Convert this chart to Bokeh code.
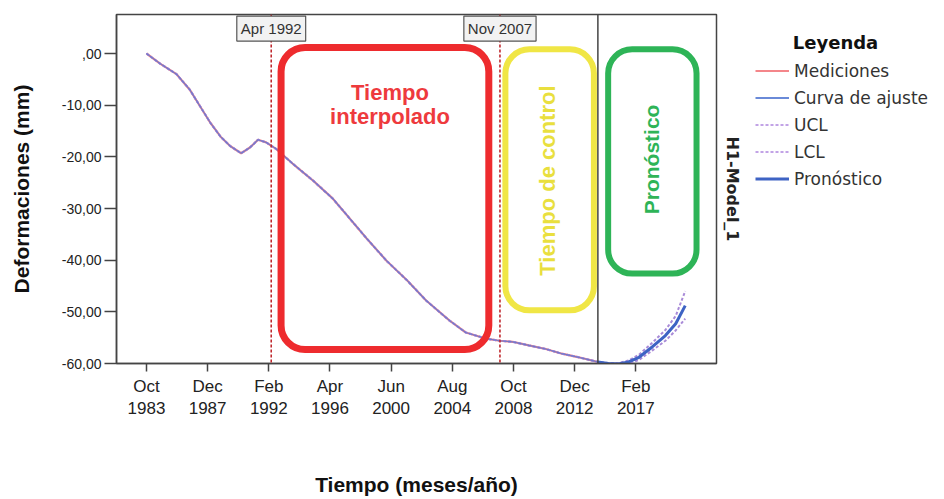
import math
from bokeh.plotting import figure
from bokeh.layouts import row
from bokeh.models import (Range1d, FixedTicker, Span, Label, BoxAnnotation,
                          Legend, LegendItem, LinearAxis)
from bokeh.embed import file_html
from bokeh.resources import INLINE

# Measured deformation (decimal year, mm)
hist_time = [1983.75, 1984.7, 1985.8, 1986.7, 1987.4, 1988.1, 1988.8, 1989.45,
             1990.2, 1990.8, 1991.35, 1991.9, 1992.6, 1993.7, 1995.1, 1996.45,
             1998.75, 2000.1, 2001.5, 2002.8, 2004.4, 2005.5, 2006.9, 2007.8,
             2008.7, 2009.8, 2010.95, 2012.05, 2013.2, 2014.5]
mediciones = [0.0, -2.0, -4.0, -7.0, -10.2, -13.4, -16.1, -17.9,
              -19.3, -18.2, -16.7, -17.2, -18.5, -21.3, -24.6, -28.1,
              -35.8, -40.1, -43.9, -47.8, -51.7, -54.0, -55.2, -55.6,
              -55.8, -56.5, -57.2, -58.1, -58.8, -59.7]
curva_ajuste = list(mediciones)

# Forecast with control limits
fc_time = [2014.5, 2015.2, 2015.9, 2016.6, 2017.3, 2018.2, 2019.1, 2019.8, 2020.45]
pronostico = [-59.7, -60.0, -60.1, -59.7, -58.8, -56.8, -54.6, -52.3, -48.8]
ucl_fc = [-59.7, -59.9, -59.9, -59.4, -58.3, -56.0, -53.5, -50.8, -46.0]
lcl_fc = [-59.7, -60.1, -60.3, -60.0, -59.3, -57.5, -55.6, -53.6, -51.3]

# Axis ticks
tick_months = ["Oct", "Dec", "Feb", "Apr", "Jun", "Aug", "Oct", "Dec", "Feb"]
tick_month_num = [10, 12, 2, 4, 6, 8, 10, 12, 2]
tick_years = [1983, 1987, 1992, 1996, 2000, 2004, 2008, 2012, 2017]
y_ticks = [0, -10, -20, -30, -40, -50, -60]
y_tick_labels = [",00", "-10,00", "-20,00", "-30,00", "-40,00", "-50,00", "-60,00"]

# Reference events
event_labels = ["Apr 1992", "Nov 2007"]
event_times = [1992.25, 2007.83]
forecast_start = 2014.5

FONT = "Liberation Sans"
LEG_FONT = "DejaVu Sans"

p = figure(width=744, height=499, output_backend="svg", toolbar_location=None,
           x_range=Range1d(1981.71, 2022.58), y_range=Range1d(-60, 7.55),
           min_border_left=116, min_border_right=26, min_border_top=14,
           min_border_bottom=135)
p.background_fill_color = "white"
p.border_fill_color = "white"
p.outline_line_color = "#444444"
p.outline_line_width = 1.5
p.xgrid.visible = False
p.ygrid.visible = False

# x axis
x_pos = [round(y + (m - 1) / 12, 4) for y, m in zip(tick_years, tick_month_num)]
p.xaxis.ticker = FixedTicker(ticks=x_pos)
p.xaxis.major_label_overrides = {x: f"{mo}\n{yr}" for x, mo, yr in zip(x_pos, tick_months, tick_years)}
p.xaxis.axis_label = "Tiempo (meses/año)"
p.xaxis.axis_label_standoff = 52
p.xaxis.minor_tick_line_color = None
p.xaxis.major_tick_out = 8
p.xaxis.major_tick_in = 0
p.xaxis.major_label_standoff = 5
p.xaxis.major_label_text_font_size = "17px"

# y axis
p.yaxis.ticker = FixedTicker(ticks=y_ticks)
p.yaxis.major_label_overrides = dict(zip(y_ticks, y_tick_labels))
p.yaxis.axis_label = "Deformaciones (mm)"
p.yaxis.axis_label_standoff = 26
p.yaxis.minor_tick_line_color = None
p.yaxis.major_tick_out = 12
p.yaxis.major_tick_in = 0
p.yaxis.major_label_standoff = 3
p.yaxis.major_label_text_font_size = "14px"

for ax in (p.xaxis, p.yaxis):
    ax.axis_line_color = "#444444"
    ax.axis_line_width = 1.5
    ax.major_tick_line_color = "#444444"
    ax.major_tick_line_width = 1.5
    ax.major_label_text_font = FONT
    ax.major_label_text_color = "#222222"
    ax.axis_label_text_font = FONT
    ax.axis_label_text_font_size = "21px"
    ax.axis_label_text_font_style = "bold"
    ax.axis_label_text_color = "#111111"

# Model name on the right side of the frame
model_axis = LinearAxis(ticker=FixedTicker(ticks=[]), axis_label="H1-Model_1",
                        axis_line_color=None, major_tick_line_color=None,
                        minor_tick_line_color=None, major_label_standoff=0,
                        major_tick_out=0, major_tick_in=0, axis_label_standoff=6,
                        axis_label_text_font=LEG_FONT, axis_label_text_font_size="16px",
                        axis_label_text_font_style="bold", axis_label_text_color="#222222")
p.add_layout(model_axis, "right")

# Highlight boxes
box_specs = [
    (1992.92, 2007.07, 1.15, -57.3, "#ee2b2e", 7),
    (2008.2, 2014.23, 0.8, -49.7, "#f0e645", 6),
    (2015.2, 2021.22, 0.8, -42.6, "#2eb457", 6),
]
for l, r, t, b, c, w in box_specs:
    p.add_layout(BoxAnnotation(left=l, right=r, top=t, bottom=b, fill_alpha=0,
                               line_color=c, line_alpha=1.0, line_width=w,
                               border_radius=24))

# Event lines and labels
for t in event_times:
    p.add_layout(Span(location=t, dimension="height", line_color="#c0282d",
                      line_width=1.6, line_dash="3 2"))
p.add_layout(Span(location=forecast_start, dimension="height",
                  line_color="#444444", line_width=1.5))
for lbl, t in zip(event_labels, event_times):
    p.add_layout(Label(x=t, y=7.25, text=lbl, text_align="center", text_baseline="top",
                       text_font=FONT, text_font_size="15px", text_color="#333333",
                       background_fill_color="#f2f2f2", border_line_color="#555555",
                       border_line_width=1.2, padding=4))

# Series
r_med = p.line(hist_time, mediciones, line_color="#f4868a", line_width=2.2)
ucl_time = hist_time + fc_time[1:]
ucl = curva_ajuste + ucl_fc[1:]
lcl = curva_ajuste + lcl_fc[1:]
r_ucl = p.line(ucl_time, ucl, line_color="#a98bd8", line_width=2, line_dash="3 2")
r_lcl = p.line(ucl_time, lcl, line_color="#a98bd8", line_width=2, line_dash="3 2")
r_fit = p.line(hist_time, curva_ajuste, line_color="#6674c8", line_width=1.2, line_alpha=0.85)
r_fc = p.line(fc_time, pronostico, line_color="#3e63c4", line_width=3)

# Box captions
p.add_layout(Label(x=2000.34, y=-9.9, text="Tiempo\ninterpolado", text_align="center",
                   text_baseline="middle", text_font=FONT, text_font_size="22px",
                   text_line_height=0.95, text_font_style="bold", text_color="#ee3a3d"))
p.add_layout(Label(x=2011.08, y=-24.6, text="Tiempo de control", angle=math.pi / 2,
                   text_align="center", text_baseline="middle", text_font=FONT,
                   text_font_size="22px", text_font_style="bold", text_color="#e9df3e"))
p.add_layout(Label(x=2018.15, y=-20.5, text="Pronóstico", angle=math.pi / 2,
                   text_align="center", text_baseline="middle", text_font=FONT,
                   text_font_size="21px", text_font_style="bold", text_color="#2eb457"))

# Legend panel: pixel-like coordinates, y measured downward
leg = figure(width=200, height=499, output_backend="svg", toolbar_location=None,
             x_range=Range1d(0, 200), y_range=Range1d(499, 0),
             x_axis_type=None, y_axis_type=None, min_border=0)
leg.outline_line_color = None
leg.background_fill_color = "white"
leg.border_fill_color = "white"
leg.xgrid.visible = False
leg.ygrid.visible = False

# Same series, kept outside this panel's view so only their legend entries show
l_med = leg.line(hist_time, mediciones, line_color="#f4868a", line_width=2.2)
l_fit = leg.line(hist_time, curva_ajuste, line_color="#6a8ad8", line_width=1.8)
l_ucl = leg.line(ucl_time, ucl, line_color="#c2a3e6", line_width=2, line_dash="3 2")
l_lcl = leg.line(ucl_time, lcl, line_color="#c2a3e6", line_width=2, line_dash="3 2")
l_fc = leg.line(fc_time, pronostico, line_color="#3e63c4", line_width=3.2)

leg.add_layout(Label(x=91, y=40, text="Leyenda", text_align="center",
                     text_baseline="middle", text_font=LEG_FONT, text_font_size="18px",
                     text_font_style="bold", text_color="#111111"))

legend = Legend(items=[
    LegendItem(label="Mediciones", renderers=[l_med]),
    LegendItem(label="Curva de ajuste", renderers=[l_fit]),
    LegendItem(label="UCL", renderers=[l_ucl]),
    LegendItem(label="LCL", renderers=[l_lcl]),
    LegendItem(label="Pronóstico", renderers=[l_fc]),
], location=(11, 171))
legend.margin = 0
legend.padding = 8
legend.spacing = 0
legend.glyph_width = 34
legend.glyph_height = 27
legend.label_height = 27
legend.label_standoff = 5
legend.label_text_font = LEG_FONT
legend.label_text_font_size = "17px"
legend.label_text_color = "#333333"
legend.border_line_color = None
legend.background_fill_alpha = 0
leg.add_layout(legend)

layout = row(p, leg)
open("out.html", "w").write(file_html(layout, INLINE))
